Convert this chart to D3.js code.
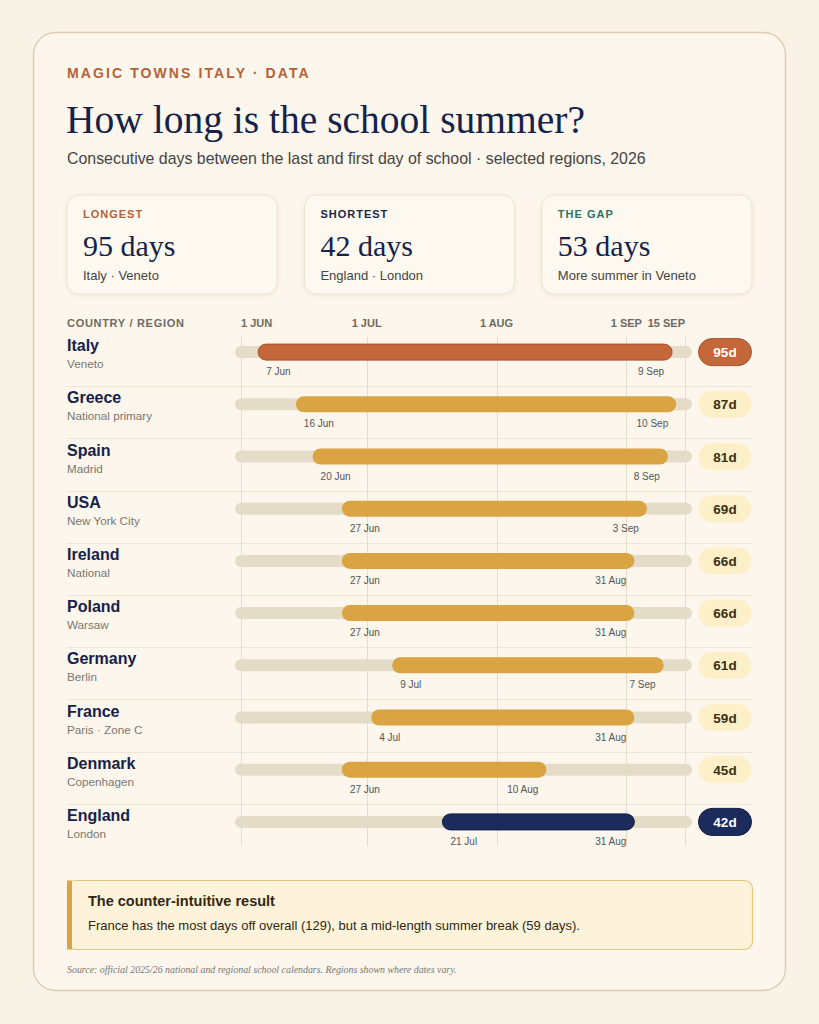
<!DOCTYPE html>
<html lang="en">
<head>
<meta charset="utf-8">
<title>How long is the school summer?</title>
<script src="https://d3js.org/d3.v7.min.js"></script>
<style>
  html, body { margin: 0; padding: 0; background: #f9f2e6; }
  svg { display: block; }
  .sans { font-family: "Liberation Sans", Arial, sans-serif; }
  .serif { font-family: "Liberation Serif", "Times New Roman", serif; }
</style>
</head>
<body>
<script>
// chart data
var countries = ["Italy", "Greece", "Spain", "USA", "Ireland", "Poland", "Germany", "France", "Denmark", "England"];
var regions = ["Veneto", "National primary", "Madrid", "New York City", "National", "Warsaw", "Berlin", "Paris \u00b7 Zone C", "Copenhagen", "London"];
var lastDay = ["2026-06-07", "2026-06-16", "2026-06-20", "2026-06-27", "2026-06-27", "2026-06-27", "2026-07-09", "2026-07-04", "2026-06-27", "2026-07-21"];
var firstDay = ["2026-09-09", "2026-09-10", "2026-09-08", "2026-09-03", "2026-08-31", "2026-08-31", "2026-09-07", "2026-08-31", "2026-08-10", "2026-08-31"];
var startLabels = ["7 Jun", "16 Jun", "20 Jun", "27 Jun", "27 Jun", "27 Jun", "9 Jul", "4 Jul", "27 Jun", "21 Jul"];
var endLabels = ["9 Sep", "10 Sep", "8 Sep", "3 Sep", "31 Aug", "31 Aug", "7 Sep", "31 Aug", "10 Aug", "31 Aug"];
var days = [95, 87, 81, 69, 66, 66, 61, 59, 45, 42];

var tickDates = ["2026-06-01", "2026-07-01", "2026-08-01", "2026-09-01", "2026-09-15"];
var tickLabels = ["1 JUN", "1 JUL", "1 AUG", "1 SEP", "15 SEP"];

var statLabels = ["LONGEST", "SHORTEST", "THE GAP"];
var statValues = ["95 days", "42 days", "53 days"];
var statNotes = ["Italy \u00b7 Veneto", "England \u00b7 London", "More summer in Veneto"];
var statColors = ["#b4623a", "#1b2748", "#2d7560"];

var W = 819, H = 1024;
var parse = d3.utcParse("%Y-%m-%d");

var svg = d3.select("body").append("svg")
  .attr("width", W)
  .attr("height", H);

var defs = svg.append("defs");
var sh = defs.append("filter").attr("id", "soft").attr("x", "-10%").attr("y", "-10%").attr("width", "120%").attr("height", "130%");
sh.append("feDropShadow").attr("dx", 0).attr("dy", 1).attr("stdDeviation", 2)
  .attr("flood-color", "#8a6a30").attr("flood-opacity", 0.12);

svg.append("rect").attr("width", W).attr("height", H).attr("fill", "#f9f2e6");

// outer card
svg.append("rect")
  .attr("x", 33.5).attr("y", 32.5).attr("width", 752).attr("height", 958)
  .attr("rx", 22)
  .attr("fill", "#fcf6ec")
  .attr("stroke", "#dccdb4")
  .attr("stroke-width", 1.5);

// header
svg.append("text").attr("class", "sans")
  .attr("x", 67).attr("y", 78)
  .attr("font-size", 14).attr("font-weight", 700)
  .attr("letter-spacing", 2.1)
  .attr("fill", "#b4623a")
  .text("MAGIC TOWNS ITALY \u00b7 DATA");

svg.append("text").attr("class", "serif")
  .attr("x", 66).attr("y", 133)
  .attr("font-size", 39.5)
  .attr("fill", "#15224a")
  .text("How long is the school summer?");

svg.append("text").attr("class", "sans")
  .attr("x", 67).attr("y", 164)
  .attr("font-size", 15.9)
  .attr("fill", "#444")
  .text("Consecutive days between the last and first day of school \u00b7 selected regions, 2026");

// stat cards
var cardX = d3.scaleBand().domain(statLabels).range([67, 752]).paddingInner(0.115);
var cards = svg.selectAll("g.stat").data(statLabels).enter().append("g")
  .attr("class", "stat")
  .attr("transform", function(d) { return "translate(" + cardX(d) + ",195)"; });

cards.append("rect")
  .attr("width", cardX.bandwidth()).attr("height", 99)
  .attr("rx", 12)
  .attr("fill", "#fdf9f1")
  .attr("stroke", "#ede3d1")
  .attr("filter", "url(#soft)");

cards.append("text").attr("class", "sans")
  .attr("x", 16).attr("y", 23)
  .attr("font-size", 11).attr("font-weight", 700).attr("letter-spacing", 1)
  .attr("fill", function(d, i) { return statColors[i]; })
  .text(function(d) { return d; });

cards.append("text").attr("class", "serif")
  .attr("x", 16).attr("y", 61)
  .attr("font-size", 30)
  .attr("fill", "#15224a")
  .text(function(d, i) { return statValues[i]; });

cards.append("text").attr("class", "sans")
  .attr("x", 16).attr("y", 85)
  .attr("font-size", 13)
  .attr("fill", "#444")
  .text(function(d, i) { return statNotes[i]; });

// scales
var x = d3.scaleUtc()
  .domain([parse("2026-06-01"), parse("2026-09-15")])
  .range([241, 685]);

var y = d3.scaleBand()
  .domain(countries)
  .range([326, 848]);

var mid = function(i) { return y(countries[i]) + y.bandwidth() / 2; };
var dayAfter = function(s) { return d3.utcDay.offset(parse(s), 1); };

// column header + ticks
svg.append("text").attr("class", "sans")
  .attr("x", 67).attr("y", 327)
  .attr("font-size", 11).attr("font-weight", 700).attr("letter-spacing", 0.7)
  .attr("fill", "#6e6a62")
  .text("COUNTRY / REGION");

svg.selectAll("line.grid").data(tickDates).enter().append("line")
  .attr("class", "grid")
  .attr("x1", function(d) { return Math.round(x(parse(d))) + 0.5; })
  .attr("x2", function(d) { return Math.round(x(parse(d))) + 0.5; })
  .attr("y1", 337).attr("y2", 846)
  .attr("stroke", "#e4dccb").attr("stroke-width", 1);

svg.selectAll("text.tick").data(tickDates).enter().append("text")
  .attr("class", "sans tick")
  .attr("x", function(d) { return x(parse(d)); })
  .attr("y", 327)
  .attr("text-anchor", function(d, i) { return i === 0 ? "start" : (i === tickDates.length - 1 ? "end" : "middle"); })
  .attr("font-size", 11).attr("font-weight", 700)
  .attr("fill", "#6e6a62")
  .text(function(d, i) { return tickLabels[i]; });

// row separators
svg.selectAll("line.sep").data(countries.slice(1)).enter().append("line")
  .attr("class", "sep")
  .attr("x1", 67).attr("x2", 752)
  .attr("y1", function(d) { return Math.round(y(d) + 8) + 0.5; })
  .attr("y2", function(d) { return Math.round(y(d) + 8) + 0.5; })
  .attr("stroke", "#ece4d4").attr("stroke-width", 1.2);

// rows
var rows = svg.selectAll("g.row").data(countries).enter().append("g")
  .attr("class", "row")
  .attr("transform", function(d, i) { return "translate(0," + mid(i) + ")"; });

rows.append("text").attr("class", "sans")
  .attr("x", 67).attr("y", -1)
  .attr("font-size", 16).attr("font-weight", 700)
  .attr("fill", "#15224a")
  .text(function(d) { return d; });

rows.append("text").attr("class", "sans")
  .attr("x", 67).attr("y", 16)
  .attr("font-size", 11.7)
  .attr("fill", "#7a7670")
  .text(function(d, i) { return regions[i]; });

// track
rows.append("rect")
  .attr("x", x.range()[0] - 6)
  .attr("y", -6)
  .attr("width", x.range()[1] - x.range()[0] + 13)
  .attr("height", 12)
  .attr("rx", 6)
  .attr("fill", "#e5dcc7");

var barColor = function(i) {
  if (i === 0) return "#c4673b";
  if (i === countries.length - 1) return "#1b2b5c";
  return "#d9a441";
};

// break bar
rows.append("rect")
  .attr("x", function(d, i) { return x(parse(lastDay[i])) - 8; })
  .attr("y", -8)
  .attr("width", function(d, i) { return x(dayAfter(firstDay[i])) - x(parse(lastDay[i])) + 16; })
  .attr("height", 16)
  .attr("rx", 8)
  .attr("fill", function(d, i) { return barColor(i); })
  .attr("stroke", function(d, i) { return i === 0 ? "#a8532c" : (i === countries.length - 1 ? "#0f1b40" : "none"); })
  .attr("stroke-width", 1);

rows.append("text").attr("class", "sans")
  .attr("x", function(d, i) { return x(parse(lastDay[i])); })
  .attr("y", 23)
  .attr("font-size", 10)
  .attr("fill", "#555")
  .text(function(d, i) { return startLabels[i]; });

rows.append("text").attr("class", "sans")
  .attr("x", function(d, i) { return x(dayAfter(firstDay[i])); })
  .attr("y", 23)
  .attr("text-anchor", "end")
  .attr("font-size", 10)
  .attr("fill", "#555")
  .text(function(d, i) { return endLabels[i]; });

// day badges
rows.append("rect")
  .attr("x", 698.5).attr("y", -13.5)
  .attr("width", 53).attr("height", 27)
  .attr("rx", 13.5)
  .attr("fill", function(d, i) { return i === 0 ? "#c4673b" : (i === countries.length - 1 ? "#1b2b5c" : "#fdf0c9"); })
  .attr("stroke", function(d, i) { return i === 0 ? "#a8532c" : (i === countries.length - 1 ? "#0f1b40" : "none"); })
  .attr("stroke-width", 1);

rows.append("text").attr("class", "sans")
  .attr("x", 725).attr("y", 5)
  .attr("text-anchor", "middle")
  .attr("font-size", 13.5).attr("font-weight", 700)
  .attr("fill", function(d, i) { return (i === 0 || i === countries.length - 1) ? "#fff" : "#3b2f12"; })
  .text(function(d, i) { return days[i] + "d"; });

// callout
var note = svg.append("g").attr("transform", "translate(67,880)");
note.append("rect")
  .attr("x", 0.5).attr("y", 0.5).attr("width", 685).attr("height", 69)
  .attr("rx", 8)
  .attr("fill", "#fdf3da")
  .attr("stroke", "#e2c57e").attr("stroke-width", 1.2);
note.append("rect")
  .attr("x", 0).attr("y", 0.5).attr("width", 5).attr("height", 69)
  .attr("fill", "#d9a441");
note.append("text").attr("class", "sans")
  .attr("x", 21).attr("y", 26)
  .attr("font-size", 14.5).attr("font-weight", 700)
  .attr("fill", "#33270f")
  .text("The counter-intuitive result");
note.append("text").attr("class", "sans")
  .attr("x", 21).attr("y", 50)
  .attr("font-size", 13)
  .attr("fill", "#33270f")
  .text("France has the most days off overall (129), but a mid-length summer break (59 days).");

svg.append("text").attr("class", "serif")
  .attr("x", 67).attr("y", 973)
  .attr("font-size", 9.9).attr("font-style", "italic")
  .attr("fill", "#777")
  .text("Source: official 2025/26 national and regional school calendars. Regions shown where dates vary.");
</script>
</body>
</html>
